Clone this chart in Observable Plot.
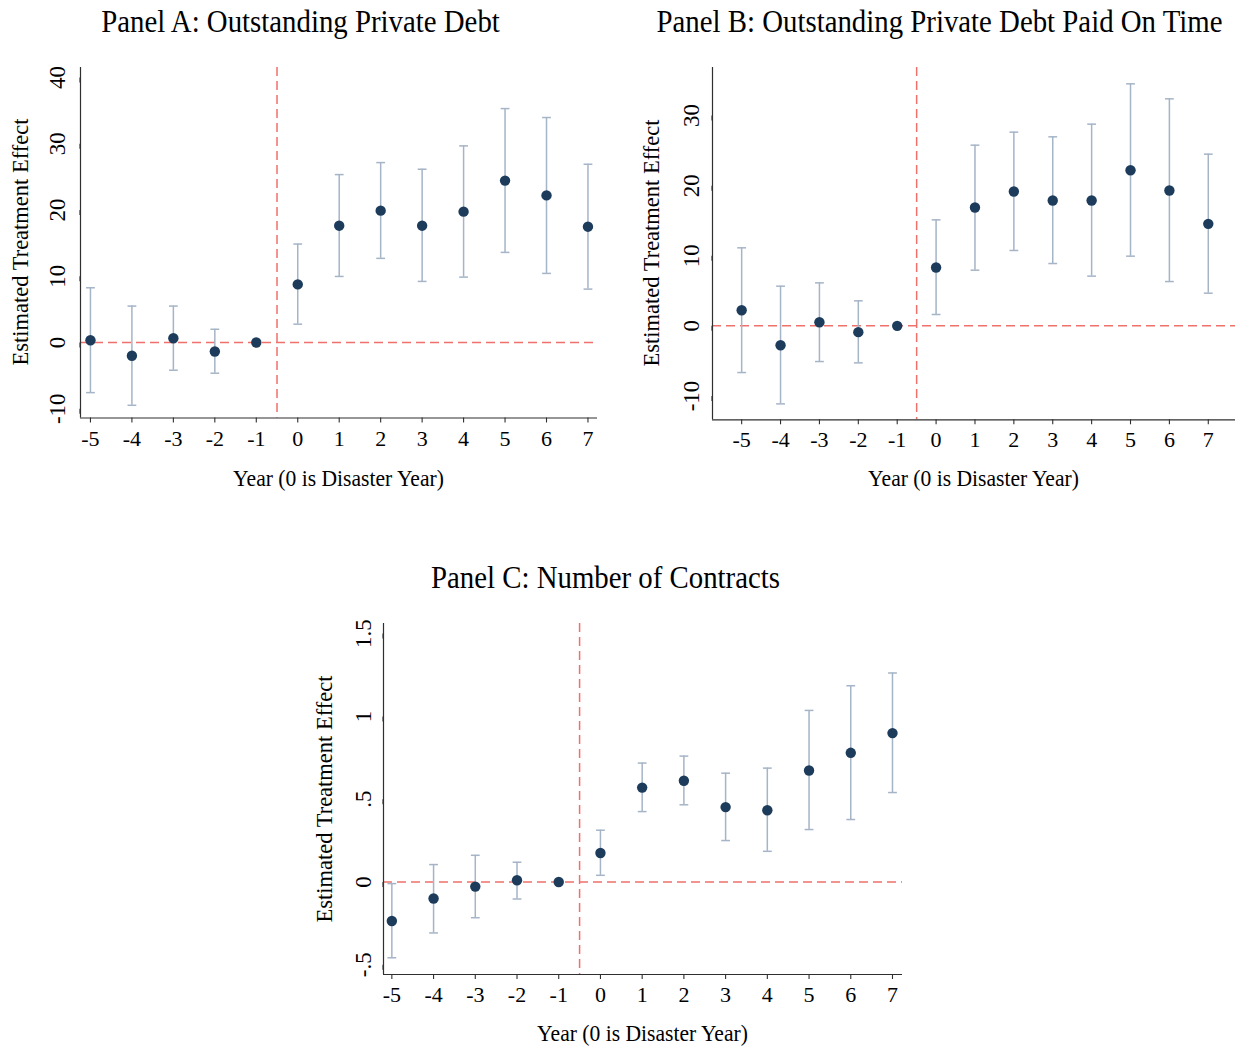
<!DOCTYPE html>
<html>
<head>
<meta charset="utf-8">
<script src="https://cdn.jsdelivr.net/npm/d3@7"></script>
<script src="https://cdn.jsdelivr.net/npm/@observablehq/plot@0.6"></script>
<style>
  html, body { margin: 0; padding: 0; background: #fff; }
  #root { position: relative; width: 1241px; height: 1047px; overflow: hidden; font-family: "Liberation Serif", "Times New Roman", serif; }
  .panel { position: absolute; }
  #overlay { position: absolute; left: 0; top: 0; pointer-events: none; }
</style>
</head>
<body>
<div id="root"></div>
<script>
// ---------------- data ----------------
const years = [-5, -4, -3, -2, -1, 0, 1, 2, 3, 4, 5, 6, 7];
const eventLine = -0.5;

const panelA_title = "Panel A: Outstanding Private Debt";
const panelA_est = [0.35, -2.0, 0.65, -1.36, 0, 8.77, 17.63, 19.9, 17.63, 19.75, 24.43, 22.2, 17.48];
const panelA_lo  = [-7.56, -9.47, -4.18, -4.63, null, 2.77, 9.97, 12.7, 9.22, 9.87, 13.6, 10.43, 8.06];
const panelA_hi  = [8.26, 5.5, 5.5, 2.0, null, 14.86, 25.34, 27.15, 26.15, 29.67, 35.3, 33.95, 26.9];
const panelA_yTicks = [-10, 0, 10, 20, 30, 40];

const panelB_title = "Panel B: Outstanding Private Debt Paid On Time";
const panelB_est = [2.23, -2.76, 0.52, -0.9, 0, 8.32, 16.88, 19.16, 17.88, 17.88, 22.2, 19.3, 14.55];
const panelB_lo  = [-6.66, -11.13, -5.09, -5.28, null, 1.62, 7.94, 10.75, 8.89, 7.09, 9.94, 6.32, 4.66];
const panelB_hi  = [11.13, 5.66, 6.13, 3.57, null, 15.12, 25.77, 27.63, 26.96, 28.77, 34.52, 32.38, 24.49];
const panelB_yTicks = [-10, 0, 10, 20, 30];

const panelC_title = "Panel C: Number of Contracts";
const panelC_est = [-0.236, -0.10, -0.028, 0.01, 0, 0.175, 0.57, 0.611, 0.452, 0.433, 0.673, 0.78, 0.899];
const panelC_lo  = [-0.458, -0.308, -0.216, -0.103, null, 0.04, 0.425, 0.466, 0.25, 0.185, 0.3165, 0.377, 0.54];
const panelC_hi  = [-0.01, 0.105, 0.161, 0.119, null, 0.3125, 0.718, 0.76, 0.657, 0.6875, 1.036, 1.185, 1.262];
const panelC_yTicks = [-0.5, 0, 0.5, 1, 1.5];

const yTitle = "Estimated Treatment Effect";
const xTitle = "Year (0 is Disaster Year)";

// ---------------- styles ----------------
const FONT = "Liberation Serif, Times New Roman, serif";
const DOT = "#1d3c5c";
const CI = "#a5b4c7";
const REF = "#f0706c";
const AXIS = "#2f2f2f";

const capSymbol = {
  draw(ctx, size) {
    const w = Math.sqrt(size / Math.PI);
    ctx.moveTo(-w, 0);
    ctx.lineTo(w, 0);
  }
};

const stataFmt = d => {
  if (d === 0) return "0";
  let s = String(d);
  s = s.replace(/^(-?)0\./, "$1.");
  return s;
};

function makePanel(cfg) {
  const data = years.map((y, i) => ({year: y, est: cfg.est[i], lo: cfg.lo[i], hi: cfg.hi[i]}));
  const ci = data.filter(d => d.lo != null && d.hi != null);
  const chart = Plot.plot({
    width: cfg.width,
    height: cfg.height,
    marginLeft: cfg.mL,
    marginRight: cfg.mR,
    marginTop: cfg.mT,
    marginBottom: cfg.mB,
    x: {domain: cfg.xDomain},
    y: {domain: cfg.yDomain},
    style: {fontFamily: FONT, background: "transparent", color: "#000", overflow: "visible"},
    marks: [
      Plot.ruleY([0], {stroke: REF, strokeWidth: 1.5, strokeDasharray: "9,5"}),
      Plot.ruleX([eventLine], {stroke: REF, strokeWidth: 1.5, strokeDasharray: "9,5"}),
      Plot.ruleX(ci, {x: "year", y1: "lo", y2: "hi", stroke: CI, strokeWidth: 1.5}),
      Plot.dot(ci, {x: "year", y: "lo", symbol: capSymbol, r: 4.4, stroke: CI, fill: "none", strokeWidth: 1.5}),
      Plot.dot(ci, {x: "year", y: "hi", symbol: capSymbol, r: 4.4, stroke: CI, fill: "none", strokeWidth: 1.5}),
      Plot.dot(data, {x: "year", y: "est", r: 5.2, fill: DOT, stroke: "none"}),
      Plot.axisX({ticks: years, tickFormat: d => String(d), tickSize: 5, tickPadding: 7, label: null, fontSize: 22, stroke: AXIS, strokeWidth: 1.1}),
      Plot.axisY({ticks: cfg.yTicks, tickFormat: stataFmt, tickSize: 5, tickPadding: cfg.yPad, label: null, fontSize: 23, rotate: -90, textAnchor: "middle", stroke: AXIS, strokeWidth: 1.1}),
      Plot.ruleX([cfg.xDomain[0]], {stroke: AXIS, strokeWidth: 1.2}),
      Plot.ruleY([cfg.yDomain[0]], {stroke: AXIS, strokeWidth: 1.2})
    ]
  });
  const wrap = document.createElement("div");
  wrap.className = "panel";
  wrap.style.left = cfg.left + "px";
  wrap.style.top = cfg.top + "px";
  wrap.appendChild(chart);
  document.getElementById("root").appendChild(wrap);
}

makePanel({est: panelA_est, lo: panelA_lo, hi: panelA_hi, yTicks: panelA_yTicks,
  xDomain: [-5.24, 7.23], yDomain: [-11.39, 41.5], yPad: 18,
  left: 30, top: 62, width: 577, height: 391, mL: 50, mR: 10, mT: 5, mB: 35.5});

makePanel({est: panelB_est, lo: panelB_lo, hi: panelB_hi, yTicks: panelB_yTicks,
  xDomain: [-5.75, 7.7], yDomain: [-13.4, 36.85], yPad: 15.5,
  left: 662, top: 62, width: 579, height: 392, mL: 50, mR: 6, mT: 5, mB: 34.7});

makePanel({est: panelC_est, lo: panelC_lo, hi: panelC_hi, yTicks: panelC_yTicks,
  xDomain: [-5.2, 7.24], yDomain: [-0.559, 1.561], yPad: 15,
  left: 333, top: 618, width: 579, height: 391, mL: 50, mR: 10, mT: 5, mB: 35});

// ---------------- titles & axis titles ----------------
const svg = d3.select("#root").append("svg")
  .attr("id", "overlay").attr("width", 1241).attr("height", 1047)
  .style("font-family", FONT);

const titles = [
  {text: panelA_title, x: 300.5, y: 31.5},
  {text: panelB_title, x: 939.5, y: 31.5},
  {text: panelC_title, x: 605.5, y: 588}
];
svg.selectAll("text.title").data(titles).join("text")
  .attr("class", "title")
  .attr("transform", d => `translate(${d.x},${d.y}) scale(0.93,1)`)
  .attr("text-anchor", "middle").attr("font-size", 31).attr("fill", "#000")
  .text(d => d.text);

const xTitles = [
  {x: 338.5, y: 486},
  {x: 973.5, y: 486},
  {x: 642.5, y: 1041}
];
svg.selectAll("text.xt").data(xTitles).join("text")
  .attr("class", "xt")
  .attr("transform", d => `translate(${d.x},${d.y}) scale(0.92,1)`)
  .attr("text-anchor", "middle").attr("font-size", 23.5).attr("fill", "#000")
  .text(xTitle);

const yTitles = [
  {x: 27.5, y: 242},
  {x: 659, y: 243},
  {x: 331.5, y: 799}
];
svg.selectAll("text.yt").data(yTitles).join("text")
  .attr("class", "yt")
  .attr("transform", d => `translate(${d.x},${d.y}) rotate(-90)`)
  .attr("text-anchor", "middle").attr("font-size", 22.5).attr("fill", "#000")
  .text(yTitle);
</script>
</body>
</html>
